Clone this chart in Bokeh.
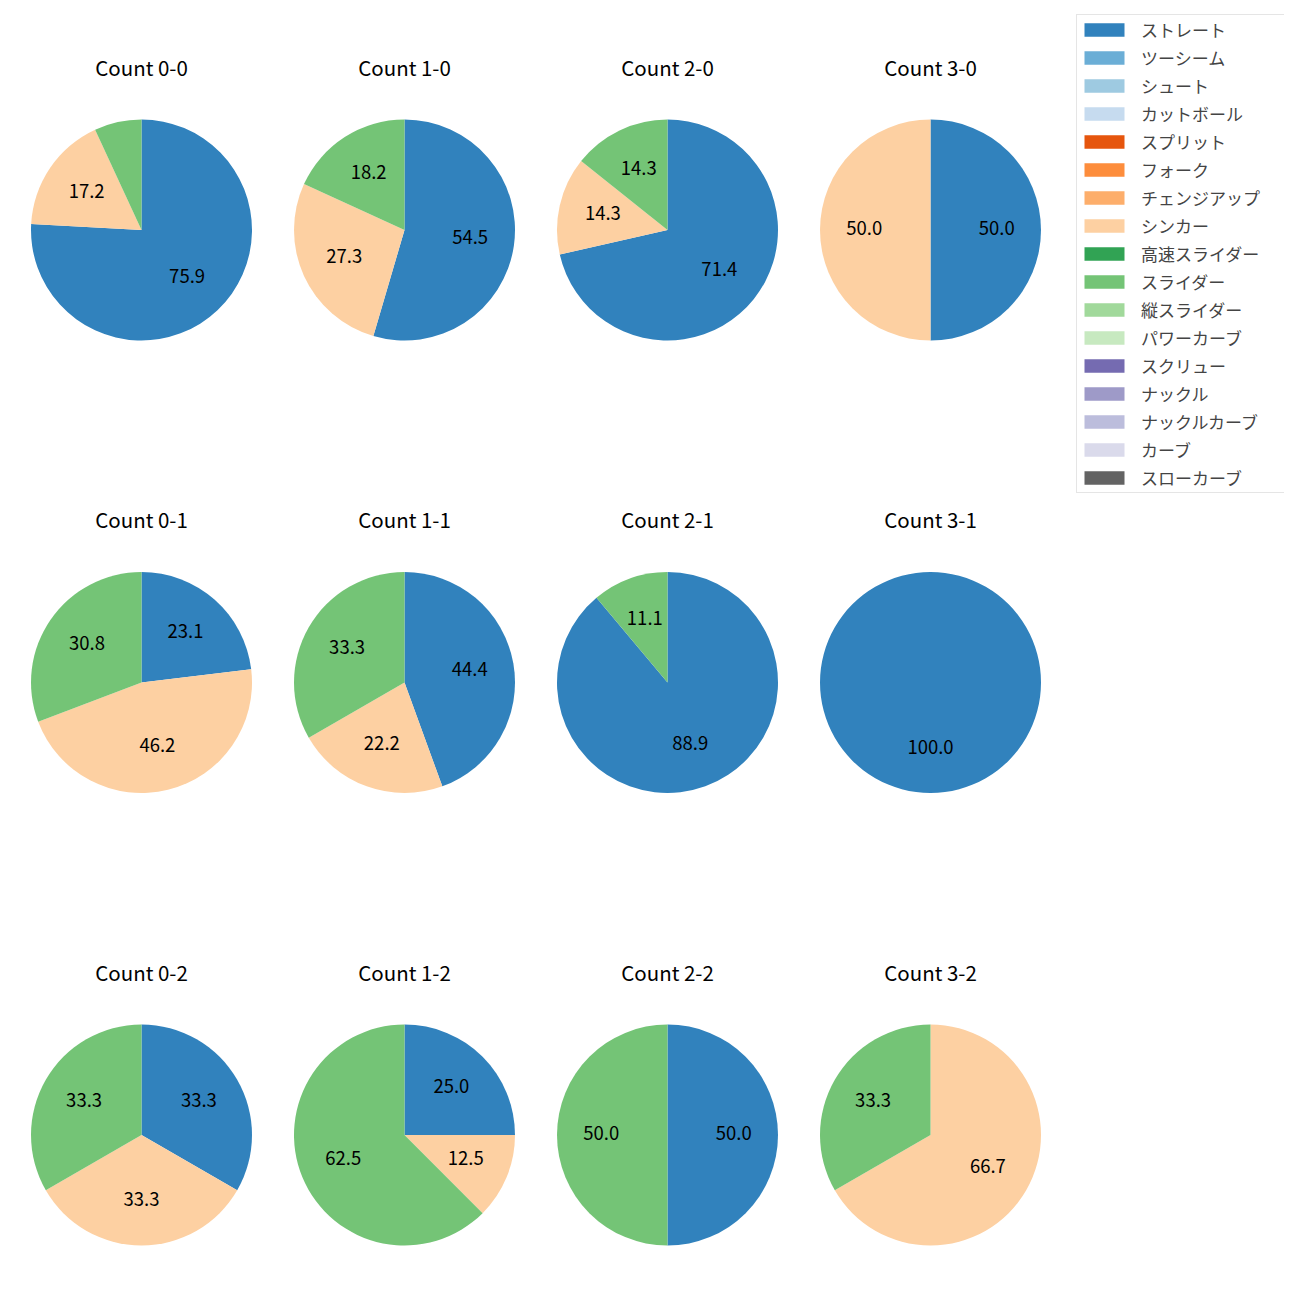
import math
from bokeh.plotting import figure
from bokeh.models import ColumnDataSource, Range1d, Legend, LegendItem
from bokeh.embed import file_html
from bokeh.resources import INLINE
from bokeh.core.properties import value

# ---- data ----
pitch_types = ["ストレート", "ツーシーム", "シュート", "カットボール", "スプリット", "フォーク",
               "チェンジアップ", "シンカー", "高速スライダー", "スライダー", "縦スライダー",
               "パワーカーブ", "スクリュー", "ナックル", "ナックルカーブ", "カーブ", "スローカーブ"]
pitch_colors = ["#3182bd", "#6baed6", "#9ecae1", "#c6dbef", "#e6550d", "#fd8d3c",
                "#fdae6b", "#fdd0a2", "#31a354", "#74c476", "#a1d99b", "#c7e9c0",
                "#756bb1", "#9e9ac8", "#bcbddc", "#dadaeb", "#636363"]
count_labels = ["0-0", "1-0", "2-0", "3-0",
                "0-1", "1-1", "2-1", "3-1",
                "0-2", "1-2", "2-2", "3-2"]
straight = [22, 6, 5, 1, 3, 4, 8, 1, 1, 2, 1, 0]
sinker = [5, 3, 1, 1, 6, 2, 0, 0, 1, 1, 0, 2]
slider = [2, 2, 1, 0, 4, 3, 1, 0, 1, 5, 1, 1]
series = {"ストレート": straight, "シンカー": sinker, "スライダー": slider}

# ---- layout (pixels) ----
W = H = 1284
COL_X0, COL_DX = 141.0, 263.0
ROW_Y0, ROW_DY = 229.5, 452.5
RADIUS = 110.5
TITLE_OFF = 160.5
FONT = "Noto Sans CJK JP"


def center(i):
    r, c = divmod(i, 4)
    x = COL_X0 + c * COL_DX
    y_img = ROW_Y0 + r * ROW_DY
    return x, H - y_img


p = figure(width=W, height=H, x_range=Range1d(0, W), y_range=Range1d(0, H),
           x_axis_type=None, y_axis_type=None, toolbar_location=None,
           output_backend="svg", min_border=0, outline_line_color=None,
           background_fill_color="white", border_fill_color="white")
p.grid.visible = False

totals = [sum(series[k][i] for k in series) for i in range(len(count_labels))]

renderers = {}
lab_x, lab_y, lab_t = [], [], []
cum = [0.0] * len(count_labels)
for name in pitch_types:
    src = dict(x=[], y=[], r=[], s=[], e=[])
    if name in series:
        vals = series[name]
        for i, v in enumerate(vals):
            if v == 0:
                continue
            frac0 = cum[i] / totals[i]
            frac1 = (cum[i] + v) / totals[i]
            cum[i] += v
            cx, cy = center(i)
            a_start = math.radians(90 - frac1 * 360)
            a_end = math.radians(90 - frac0 * 360)
            if frac1 - frac0 >= 0.9999:
                a_end = a_start + 2 * math.pi - 1e-4
            src["x"].append(cx)
            src["y"].append(cy)
            src["r"].append(RADIUS)
            src["s"].append(a_start)
            src["e"].append(a_end)
            pct = 100.0 * v / totals[i]
            if pct >= 10:
                mid = math.radians(90 - (frac0 + frac1) * 180)
                lab_x.append(cx + 0.6 * RADIUS * math.cos(mid))
                lab_y.append(cy + 0.6 * RADIUS * math.sin(mid))
                lab_t.append(f"{pct:.1f}")
    else:
        # invisible placeholder so the legend draws a swatch for this type
        cx, cy = center(0)
        src = dict(x=[cx], y=[cy], r=[0.0], s=[0.0], e=[0.0])
    color = pitch_colors[pitch_types.index(name)]
    rend = p.wedge(x="x", y="y", radius="r", start_angle="s", end_angle="e",
                   direction="anticlock", source=ColumnDataSource(src),
                   fill_color=color, line_color=None)
    renderers[name] = rend

p.text(x=lab_x, y=lab_y, text=lab_t, text_align="center", text_baseline="middle",
       y_offset=-2, text_font=value(FONT), text_font_size="18.5px", text_color="black")

tx, ty, tt = [], [], []
for i, lab in enumerate(count_labels):
    cx, cy = center(i)
    tx.append(cx)
    ty.append(cy + TITLE_OFF)
    tt.append(f"Count {lab}")
p.text(x=tx, y=ty, text=tt, text_align="center", text_baseline="middle",
       y_offset=-3, text_font=value(FONT), text_font_size="20.5px", text_color="black")

legend = Legend(items=[LegendItem(label=n, renderers=[renderers[n]]) for n in pitch_types],
                location=(1076, H - 493), margin=0, padding=2, spacing=3,
                glyph_width=50, glyph_height=17, label_height=17, label_standoff=12,
                label_width=141, label_text_font=FONT, label_text_font_size="17px",
                border_line_color="#cccccc", border_line_width=1,
                background_fill_color="white", background_fill_alpha=1.0)
p.add_layout(legend)

open("out.html", "w").write(file_html(p, INLINE))
